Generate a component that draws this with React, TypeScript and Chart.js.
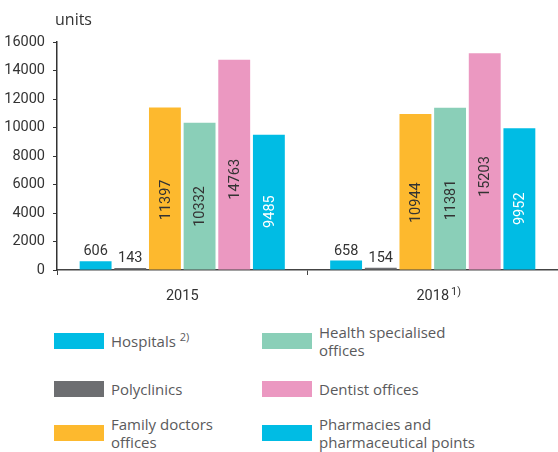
import React, { useEffect, useRef } from "react";
import { Chart, registerables } from "chart.js";

Chart.register(...registerables);

const categories = ["2015", "2018"];
const categoryNotes = ["", "1)"];
const hospitals = [606, 658];
const polyclinics = [143, 154];
const familyDoctors = [11397, 10944];
const healthSpecialised = [10332, 11381];
const dentistOffices = [14763, 15203];
const pharmacies = [9485, 9952];

const seriesNames = [
  "Hospitals",
  "Polyclinics",
  "Family doctors offices",
  "Health specialised offices",
  "Dentist offices",
  "Pharmacies and pharmaceutical points",
];
const seriesNotes = ["2)", "", "", "", "", ""];
const seriesColors = ["#00BCE4", "#6D6E71", "#FDB92E", "#8ACFB8", "#EB98C1", "#00BCE4"];
const labelColors = ["#333333", "#333333", "#333333", "#333333", "#333333", "#FFFFFF"];
const insideLabel = [false, false, true, true, true, true];

const Y_MIN = 0;
const Y_MAX = 16000;
const Y_STEP = 2000;

const NUM_FONT = "Roboto, 'Liberation Sans', sans-serif";
const NUM_SIZE = 14.5;
const LEGEND_FONT = "'Open Sans', 'Noto Sans', sans-serif";

const labelPlugin = {
  id: "barLabels",
  afterDatasetsDraw(chart: any) {
    const ctx = chart.ctx;
    ctx.save();
    ctx.font = `${NUM_SIZE}px ${NUM_FONT}`;
    chart.data.datasets.forEach((ds: any, di: number) => {
      const meta = chart.getDatasetMeta(di);
      meta.data.forEach((bar: any, i: number) => {
        const text = String(ds.data[i]);
        ctx.fillStyle = labelColors[di];
        if (!insideLabel[di]) {
          ctx.textAlign = "center";
          ctx.textBaseline = "alphabetic";
          ctx.fillText(text, bar.x, bar.y - 6);
        } else {
          const yc = bar.base - 0.43 * (bar.base - bar.y);
          ctx.save();
          ctx.translate(bar.x, yc);
          ctx.rotate(-Math.PI / 2);
          ctx.textAlign = "center";
          ctx.textBaseline = "middle";
          ctx.fillText(text, 0, 1);
          ctx.restore();
        }
      });
    });
    const xs = chart.scales.x;
    categories.forEach((c, i) => {
      const note = categoryNotes[i];
      if (!note) return;
      const px = xs.getPixelForValue(i);
      ctx.font = `${NUM_SIZE}px ${NUM_FONT}`;
      const w = ctx.measureText(c).width;
      ctx.font = `11px ${NUM_FONT}`;
      ctx.fillStyle = "#333333";
      ctx.textAlign = "left";
      ctx.textBaseline = "alphabetic";
      ctx.fillText(note, px + w / 2 + 2, 295);
    });
    ctx.restore();
  },
};

function App() {
  const ref = useRef<HTMLCanvasElement | null>(null);

  useEffect(() => {
    document.body.style.margin = "0";
    if (!ref.current) return;
    const seriesData = [hospitals, polyclinics, familyDoctors, healthSpecialised, dentistOffices, pharmacies];
    const chart = new Chart(ref.current, {
      type: "bar",
      data: {
        labels: categories,
        datasets: seriesData.map((d, i) => ({
          label: seriesNames[i],
          data: d,
          backgroundColor: seriesColors[i],
          borderWidth: 0,
          barPercentage: 0.92,
          categoryPercentage: 0.83,
        })),
      },
      options: {
        responsive: false,
        animation: false,
        devicePixelRatio: 1,
        layout: { padding: { top: 42, left: 0, right: 0, bottom: 0 } },
        plugins: {
          legend: { display: false },
          tooltip: { enabled: false },
          title: { display: false },
        },
        scales: {
          x: {
            offset: true,
            afterFit: (s: any) => {
              s.height = 40;
            },
            grid: {
              display: true,
              drawOnChartArea: false,
              drawTicks: true,
              tickLength: 5,
              color: "#444444",
            },
            border: { color: "#444444", width: 1.5 },
            ticks: {
              color: "#333333",
              font: { family: NUM_FONT, size: NUM_SIZE },
              padding: 13,
            },
          },
          y: {
            min: Y_MIN,
            max: Y_MAX,
            afterFit: (s: any) => {
              s.width = 57;
            },
            grid: {
              display: true,
              drawOnChartArea: false,
              drawTicks: true,
              tickLength: 4,
              color: "#333333",
            },
            border: { color: "#333333", width: 1.5 },
            ticks: {
              stepSize: Y_STEP,
              color: "#333333",
              font: { family: NUM_FONT, size: NUM_SIZE },
              padding: 8,
              callback: (v: any) => String(v),
            },
          },
        },
      },
      plugins: [labelPlugin],
    });
    return () => chart.destroy();
  }, []);

  const colLeft = [54, 262];
  const rowCenter = [341, 389, 433];

  return (
    <div style={{ position: "fixed", left: 0, top: 0, width: 558, height: 452, background: "#fff", overflow: "hidden" }}>
      <canvas ref={ref} width={558} height={310} style={{ display: "block", position: "absolute", left: 0, top: 0 }} />
      <div
        style={{
          position: "absolute",
          left: 55,
          top: 8,
          fontFamily: LEGEND_FONT,
          fontSize: 16,
          color: "#333333",
        }}
      >
        units
      </div>
      {seriesNames.map((name, i) => {
        const col = i < 3 ? 0 : 1;
        const row = i % 3;
        return (
          <div
            key={name}
            style={{
              position: "absolute",
              left: colLeft[col],
              top: rowCenter[row] - 30,
              height: 60,
              display: "flex",
              alignItems: "center",
              fontFamily: LEGEND_FONT,
              fontSize: 15,
              lineHeight: "18px",
              color: "#5a5a5c",
            }}
          >
            <div style={{ width: 50, height: 16, background: seriesColors[i], flex: "none" }} />
            <div style={{ marginLeft: 7, width: i === 5 ? 200 : i === 2 ? 120 : 150 }}>
              {name}
              {seriesNotes[i] ? (
                <sup style={{ fontSize: 11, marginLeft: 4, verticalAlign: "6px", lineHeight: 0 }}>{seriesNotes[i]}</sup>
              ) : null}
            </div>
          </div>
        );
      })}
    </div>
  );
}

export default App;
